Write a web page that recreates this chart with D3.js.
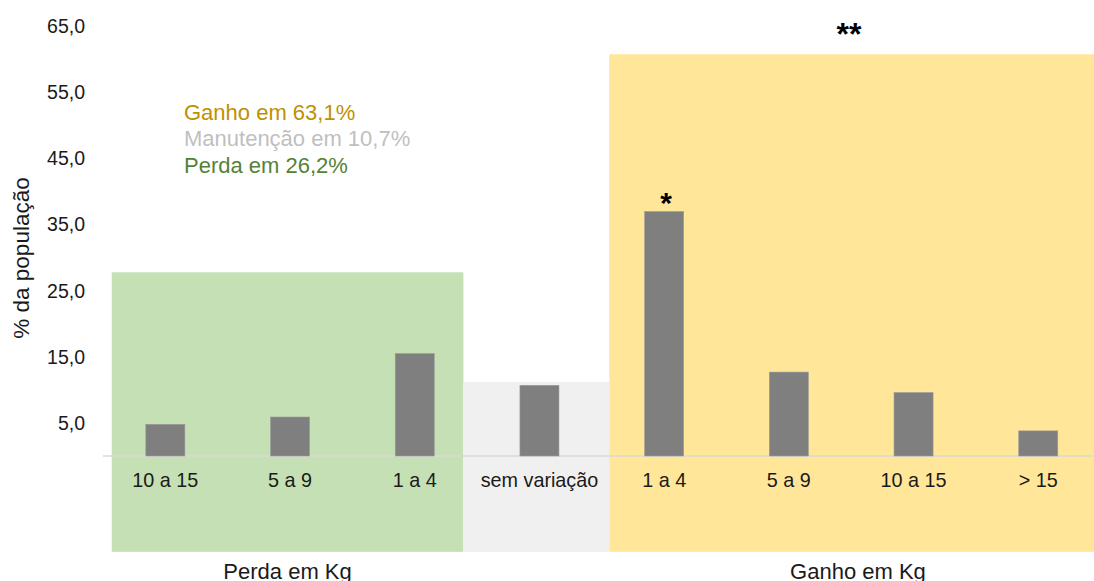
<!DOCTYPE html>
<html>
<head>
<meta charset="utf-8">
<script src="https://cdn.jsdelivr.net/npm/d3@7"></script>
<style>
  body { margin: 0; background: #fff; }
  svg { display: block; font-family: "Liberation Sans", Arial, sans-serif; }
</style>
</head>
<body>
<svg id="chart" width="1094" height="581"></svg>
<script>
// categories and values (% da população)
var categories = ["10 a 15", "5 a 9", "1 a 4", "sem variação", "1 a 4 ", "5 a 9 ", "10 a 15 ", "> 15"];
var labels = ["10 a 15", "5 a 9", "1 a 4", "sem variação", "1 a 4", "5 a 9", "10 a 15", "> 15"];
var values = [4.8, 5.9, 15.5, 10.7, 37.0, 12.7, 9.6, 3.8];
var yTicks = [5, 15, 25, 35, 45, 55, 65];

// background groups: span in category index units, top value
var groupNames = ["Perda em Kg", "sem variação", "Ganho em Kg"];
var groupFrom = [-0.43, 2.39, 3.56];
var groupTo = [2.39, 3.56, 7.5];
var groupTop = [27.8, 11.2, 60.8];
var groupBottom = -14.5;
var groupColors = ["#c5e0b4", "#f0f0f0", "#ffe699"];

var legendTexts = ["Ganho em 63,1%", "Manutenção em 10,7%", "Perda em 26,2%"];
var legendColors = ["#bf9000", "#bfbfbf", "#548235"];

var svg = d3.select("#chart");

var x = d3.scaleBand()
    .domain(categories)
    .range([103, 1100.6])
    .paddingInner(0.687)
    .paddingOuter(0.687 / 2);

var y = d3.scaleLinear()
    .domain([0, 65])
    .range([456, 26.5]);

var step = x.step();
var center0 = x(categories[0]) + x.bandwidth() / 2;
function xi(idx) { return center0 + step * idx; }

// background boxes
svg.append("g").selectAll("rect")
  .data(groupFrom)
  .join("rect")
    .attr("x", function(d, i) { return xi(d); })
    .attr("width", function(d, i) { return xi(groupTo[i]) - xi(d); })
    .attr("y", function(d, i) { return y(groupTop[i]); })
    .attr("height", function(d, i) { return y(groupBottom) - y(groupTop[i]); })
    .attr("fill", function(d, i) { return groupColors[i]; });

// y axis (labels only)
var yAxis = d3.axisLeft(y)
    .tickValues(yTicks)
    .tickSize(0)
    .tickPadding(0)
    .tickFormat(function(d) { return d3.format(".1f")(d).replace(".", ","); });

var gy = svg.append("g")
    .attr("transform", "translate(85,0)")
    .call(yAxis);
gy.select(".domain").remove();
gy.selectAll("text")
    .attr("font-size", 19.5)
    .attr("font-family", "Liberation Sans, Arial, sans-serif")
    .attr("fill", "#1a1a1a");

// baseline
svg.append("line")
    .attr("x1", x.range()[0])
    .attr("x2", 1094)
    .attr("y1", y(0))
    .attr("y2", y(0))
    .attr("stroke", "#d9d9d9")
    .attr("stroke-width", 1.5);

// bars
svg.append("g").selectAll("rect")
  .data(values)
  .join("rect")
    .attr("x", function(d, i) { return x(categories[i]); })
    .attr("width", x.bandwidth())
    .attr("y", function(d) { return y(d); })
    .attr("height", function(d) { return y(0) - y(d); })
    .attr("fill", "#7f7f7f")
    .attr("stroke", "#9a9a9a")
    .attr("stroke-width", 0.6);

// category labels
svg.append("g").selectAll("text")
  .data(labels)
  .join("text")
    .attr("x", function(d, i) { return x(categories[i]) + x.bandwidth() / 2; })
    .attr("y", y(0) + 31)
    .attr("text-anchor", "middle")
    .attr("font-size", 19.8)
    .attr("fill", "#1a1a1a")
    .text(function(d) { return d; });

// group titles
svg.append("text")
    .attr("x", (xi(groupFrom[0]) + xi(groupTo[0])) / 2)
    .attr("y", 578.5)
    .attr("text-anchor", "middle")
    .attr("font-size", 22)
    .attr("fill", "#1a1a1a")
    .text(groupNames[0]);
svg.append("text")
    .attr("x", (xi(groupFrom[2]) + xi(groupTo[2])) / 2 + 3)
    .attr("y", 578.5)
    .attr("text-anchor", "middle")
    .attr("font-size", 22)
    .attr("fill", "#1a1a1a")
    .text(groupNames[2]);

// significance marks
svg.append("text")
    .attr("x", x(categories[4]) + x.bandwidth() / 2 + 2)
    .attr("y", y(values[4]) + 1.5)
    .attr("text-anchor", "middle")
    .attr("font-size", 30)
    .attr("font-weight", "bold")
    .attr("fill", "#000")
    .text("*");
svg.append("text")
    .attr("x", (xi(groupFrom[2]) + xi(groupTo[2])) / 2 - 6)
    .attr("y", y(groupTop[2]) - 9)
    .attr("text-anchor", "middle")
    .attr("font-size", 32)
    .attr("font-weight", "bold")
    .attr("fill", "#000")
    .text("**");

// summary legend
svg.append("g").selectAll("text")
  .data(legendTexts)
  .join("text")
    .attr("x", 184)
    .attr("y", function(d, i) { return 119.5 + i * 26.5; })
    .attr("font-size", 22)
    .attr("fill", function(d, i) { return legendColors[i]; })
    .text(function(d) { return d; });

// y axis title
svg.append("text")
    .attr("transform", "translate(29,258) rotate(-90)")
    .attr("text-anchor", "middle")
    .attr("font-size", 22.5)
    .attr("fill", "#1a1a1a")
    .text("% da população");
</script>
</body>
</html>
